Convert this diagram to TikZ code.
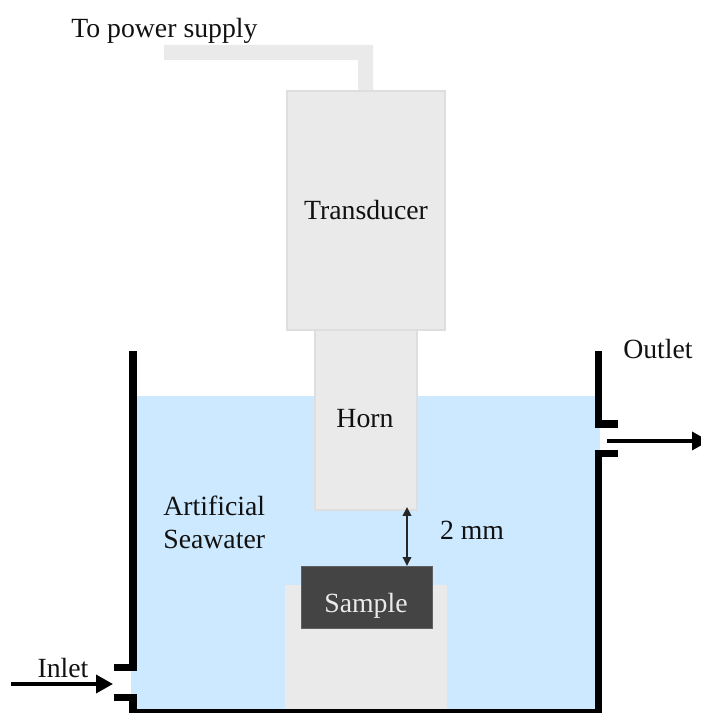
\documentclass[tikz,border=0pt]{standalone}
\usepackage{fontspec}
\setmainfont{Liberation Serif}
\usepackage{xcolor}
\usetikzlibrary{arrows.meta,positioning}
\definecolor{Ink}{HTML}{111111}
\definecolor{Water}{HTML}{CCE9FF}
\definecolor{Steel}{HTML}{EAEAEA}
\definecolor{SteelLine}{HTML}{DEDEDE}
\definecolor{Dark}{HTML}{444444}
\tikzset{
  part/.style={draw=SteelLine,fill=Steel,line width=0.025cm,align=center,outer sep=0pt,font=\fontsize{15.8}{19}\selectfont,text=Ink},
  sample/.style={draw=Dark!85,fill=Dark,minimum width=2.62cm,minimum height=1.24cm,outer sep=0pt},
  label/.style={align=left,inner sep=0pt,font=\fontsize{15.8}{18.7}\selectfont,text=Ink},
  wall/.style={draw=black,line width=0.15cm,miter limit=10},
  flowarr/.style={-{Triangle[length=0.34cm,width=0.36cm]},draw=black,line width=0.07cm},
  gaparr/.style={{Triangle[length=0.18cm,width=0.17cm]}-{Triangle[length=0.18cm,width=0.17cm]},draw=black!85,line width=0.035cm}
}

\begin{document}
\begin{tikzpicture}[x=0.02cm,y=-0.02cm]
  \useasboundingbox (0,0) rectangle (700,713);
  % bath
  \fill[Water] (131,396) rectangle (600,710);
  \node[fill=Steel,minimum width=3.24cm,minimum height=2.5cm,outer sep=0pt] (stand) at (366,647) {};
  % cable
  \fill[Steel] (164,45) -- (373,45) -- (373,92) -- (358,92) -- (358,60) -- (164,60) -- cycle;
  \node[part,minimum width=3.16cm,minimum height=4.78cm] (transducer) at (366,210.5) {Transducer};
  \node[part,minimum width=2.04cm,minimum height=3.6cm,below=0pt of transducer] (horn) {};
  \node[label] (hornlabel) at (365,419) {Horn};
  \node[sample] (sample) at (366.5,597) {};
  \node[label,text=Steel] (samplelabel) at (366,606) {Sample};
  % walls
  \draw[wall] (114,667.5) -- (133,667.5) -- (133,351);
  \draw[wall] (114,697.5) -- (133,697.5) -- (133,712.5) -- (598.5,712.5) -- (598.5,453.5) -- (618,453.5);
  \draw[wall] (598.5,351) -- (598.5,424) -- (618,424);
  % flow
  \coordinate (inletstart) at (11,684);
  \coordinate (inletend) at (113,684);
  \coordinate (outletstart) at (607,441);
  \coordinate (outletend) at (709,441);
  \draw[flowarr] (inletstart) -- (inletend);
  \draw[flowarr] (outletstart) -- (outletend);
  \coordinate (gapx) at (407,530);
  \draw[gaparr] (horn.south -| gapx) ++(0,-3) -- (sample.north -| gapx);
  % labels
  \node[label,anchor=west] (power) at (71,31) {To power supply};
  \node[label,anchor=west] (seawater) at (163,522) {Artificial\\Seawater};
  \node[label] (gap) at (472,530) {2 mm};
  \node[label] (inlet) at (63,668) {Inlet};
  \node[label] (outlet) at (658,349) {Outlet};
\end{tikzpicture}
\end{document}
